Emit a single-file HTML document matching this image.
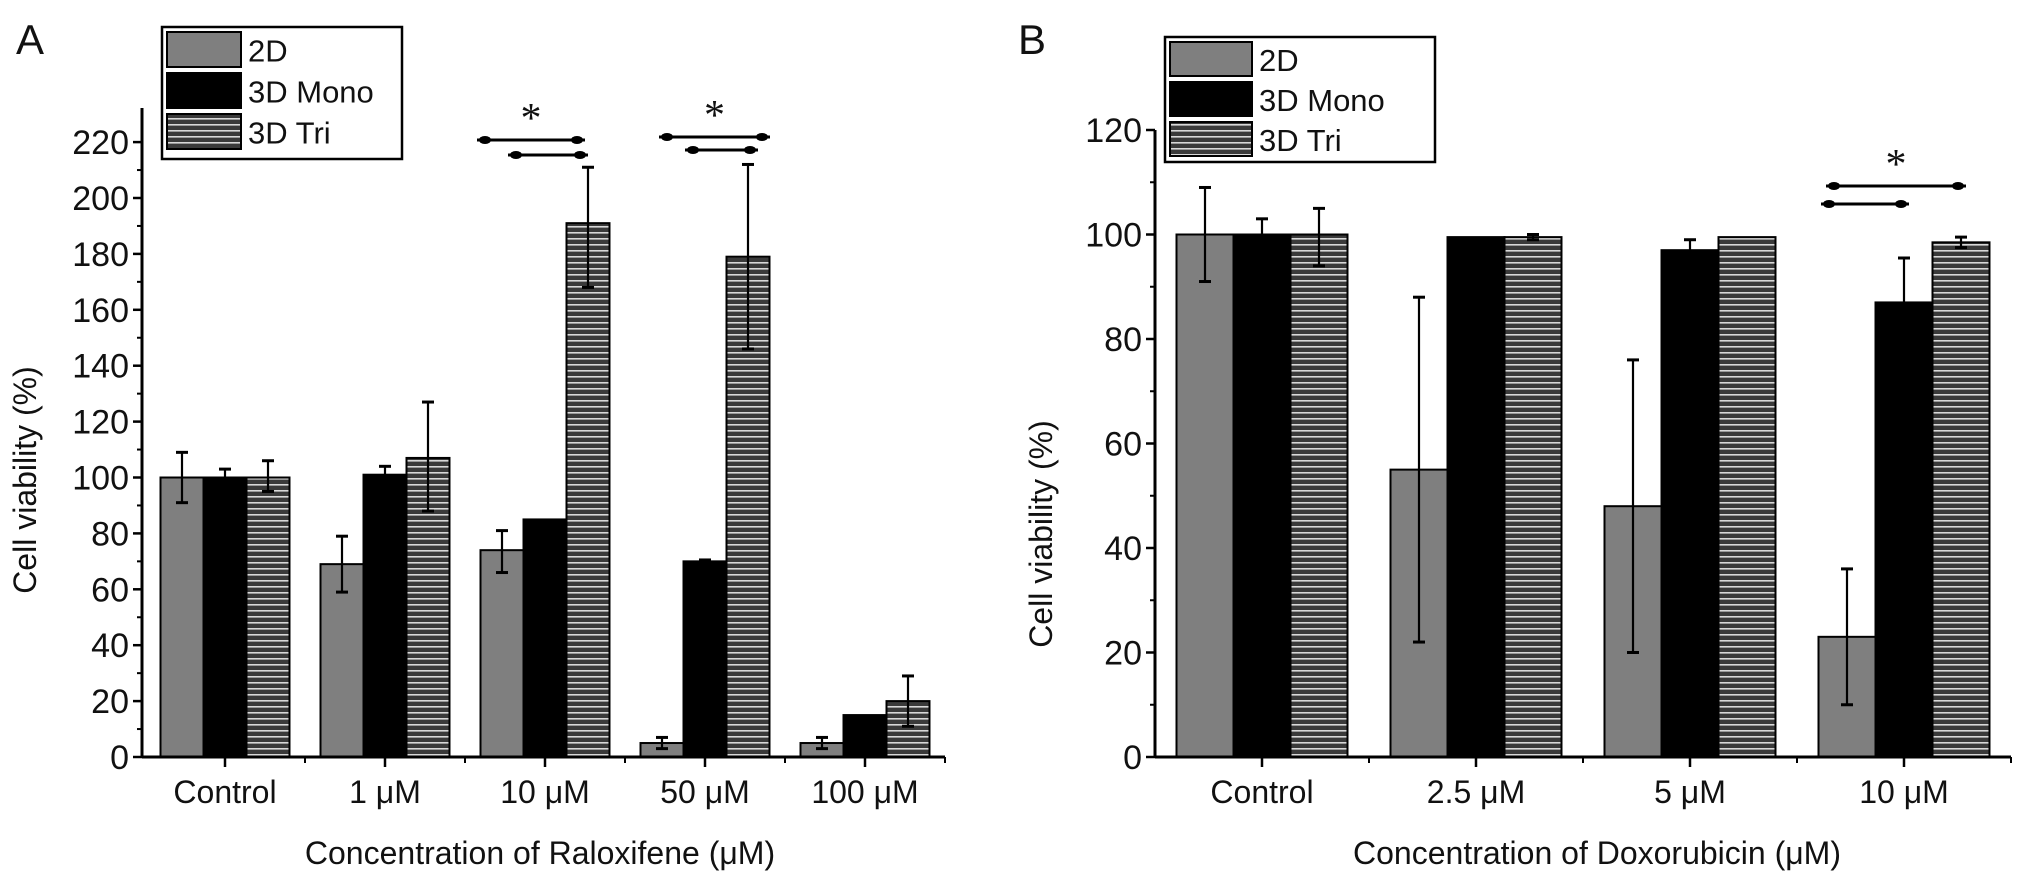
<!DOCTYPE html>
<html><head><meta charset="utf-8"><style>
html,body{margin:0;padding:0;background:#fff;}
svg{display:block;font-family:"Liberation Sans",Arial,sans-serif;}
</style></head><body>
<svg id="fig" width="2032" height="884" viewBox="0 0 2032 884" xmlns="http://www.w3.org/2000/svg">
<defs>
<pattern id="stripe" width="8" height="6" patternUnits="userSpaceOnUse">
<rect width="8" height="6" fill="#3a3a3a"/><rect y="4" width="8" height="1.6" fill="#d8d8d8"/>
</pattern>
</defs>
<g id="panelA"></g>
<g id="panelB"></g>
</svg>
<script>
// Panel A data
const catsA = ["Control","1 \u03BCM","10 \u03BCM","50 \u03BCM","100 \u03BCM"];
const a2D = [100,69,74,5,5];
const a2DHi = [109,79,81,7,7];
const a2DLo = [91,59,66,3,3];
const aMono = [100,101,85,70,15];
const aMonoHi = [103,104,85,70.5,15];
const aMonoLo = [97,98,85,69.5,15];
const aTri = [100,107,191,179,20];
const aTriHi = [106,127,211,212,29];
const aTriLo = [95,88,168,146,11];
const ticksA = [0,20,40,60,80,100,120,140,160,180,200,220];
// Panel B data
const catsB = ["Control","2.5 \u03BCM","5 \u03BCM","10 \u03BCM"];
const b2D = [100,55,48,23];
const b2DHi = [109,88,76,36];
const b2DLo = [91,22,20,10];
const bMono = [100,99.5,97,87];
const bMonoHi = [103,99.5,99,95.5];
const bMonoLo = [97,99.5,96,78];
const bTri = [100,99.5,99.5,98.5];
const bTriHi = [105,100,99.5,99.5];
const bTriLo = [94,99,99.5,97.5];
const ticksB = [0,20,40,60,80,100,120];

const NS="http://www.w3.org/2000/svg";
function mk(parent,tag,attrs,txt){const e=document.createElementNS(NS,tag);for(const k in attrs)e.setAttribute(k,attrs[k]);if(txt!==undefined)e.textContent=txt;parent.appendChild(e);return e;}

function panel(g,cfg){
  const y=v=>cfg.base-v*cfg.scale;
  const bandX=i=>cfg.x0+cfg.band*i;
  const fills=["#7f7f7f","#000","url(#stripe)"];
  const series=[[cfg.s2D,cfg.h2D,cfg.l2D],[cfg.sM,cfg.hM,cfg.lM],[cfg.sT,cfg.hT,cfg.lT]];
  const names=["2d","3d-mono","3d-tri"];
  const barC=(i,k)=>bandX(i)+cfg.band/2-1.5*cfg.bw+k*cfg.bw+cfg.bw/2;
  cfg.cats.forEach((c,i)=>{
    const cx=bandX(i)+cfg.band/2;
    const start=cx-1.5*cfg.bw;
    series.forEach((s,k)=>{
      const v=s[0][i];
      const r=mk(g,'rect',{x:start+k*cfg.bw,y:y(v),width:cfg.bw,height:y(0)-y(v),fill:fills[k],stroke:'#000','stroke-width':2});
      
      
    });
    series.forEach((s,k)=>{
      const hi=s[1][i],lo=s[2][i];
      if(hi-lo<0.8) return;
      const ex=start+k*cfg.bw+cfg.bw/2;
      const eg=mk(g,'g',{stroke:'#000','stroke-width':2.2});
      
      
      mk(eg,'line',{x1:ex,x2:ex,y1:y(hi),y2:y(lo)});
      mk(eg,'line',{x1:ex-6,x2:ex+6,y1:y(hi),y2:y(hi),'stroke-width':3});
      mk(eg,'line',{x1:ex-6,x2:ex+6,y1:y(lo),y2:y(lo),'stroke-width':3});
    });
    const t=mk(g,'text',{x:cx,y:cfg.base+46,'font-size':32,'text-anchor':'middle',fill:'#111'},c);
    
    
    mk(g,'line',{x1:cx,x2:cx,y1:cfg.base,y2:cfg.base+10,stroke:'#000','stroke-width':2.5});
    mk(g,'line',{x1:bandX(i+1),x2:bandX(i+1),y1:cfg.base,y2:cfg.base+6,stroke:'#000','stroke-width':2});
  });
  const xa=mk(g,'line',{x1:cfg.ax,x2:bandX(cfg.cats.length),y1:cfg.base,y2:cfg.base,stroke:'#000','stroke-width':3});
  
  
  const ya=mk(g,'line',{x1:cfg.ax,x2:cfg.ax,y1:cfg.base,y2:cfg.top,stroke:'#000','stroke-width':3});
  
  
  cfg.ticks.forEach((tv,j)=>{
    mk(g,'line',{x1:cfg.ax-9,x2:cfg.ax,y1:y(tv),y2:y(tv),stroke:'#000','stroke-width':2.5});
    if(j<cfg.ticks.length-1){const m=(tv+cfg.ticks[j+1])/2;mk(g,'line',{x1:cfg.ax-5,x2:cfg.ax,y1:y(m),y2:y(m),stroke:'#000','stroke-width':2});}
    const t=mk(g,'text',{x:cfg.ax-13,y:y(tv)+12,'font-size':34,'text-anchor':'end',fill:'#111'},String(tv));
    
    
  });
  const yt=mk(g,'text',{x:cfg.ytx,y:cfg.yty,'font-size':32,'text-anchor':'middle',fill:'#111',transform:'rotate(-90 '+cfg.ytx+' '+cfg.yty+')'},'Cell viability (%)');
  
  
  const xt=mk(g,'text',{x:cfg.xtx,y:864,'font-size':32,'text-anchor':'middle',fill:'#111'},cfg.xtitle);
  
  
  const pl=mk(g,'text',{x:cfg.plx,y:54,'font-size':42,fill:'#111'},cfg.plabel);
  
  
  const L=cfg.leg;
  const lg=mk(g,'g',{});
  
  
  mk(lg,'rect',{x:L.x,y:L.y,width:L.w,height:L.h,fill:'#fff',stroke:'#000','stroke-width':2.5});
  ["2D","3D Mono","3D Tri"].forEach((n,k)=>{
    const ry=L.y+5+k*L.rh;
    const sw=mk(lg,'rect',{x:L.x+5,y:ry,width:L.sw,height:L.rh-6,fill:fills[k],stroke:'#000','stroke-width':2});
    
    
    const lt=mk(lg,'text',{x:L.x+L.sw+12,y:ry+L.rh/2+9,'font-size':31,fill:'#111'},n);
    
    
  });
  cfg.sig.forEach((s,n)=>{
    const sg=mk(g,'g',{stroke:'#000','stroke-width':3,fill:'#000'});
    
    
    const x1=barC(s.cat,s.from)+s.d1, x2=barC(s.cat,s.to)+s.d2;
    mk(sg,'line',{x1:x1,x2:x2,y1:s.y,y2:s.y});
    mk(sg,'ellipse',{cx:x1+8,cy:s.y,rx:6,ry:4,stroke:'none'});
    mk(sg,'ellipse',{cx:x2-8,cy:s.y,rx:6,ry:4,stroke:'none'});
    if(s.star){
      const st=mk(g,'text',{x:(x1+x2)/2,y:s.y-8,'font-size':42,'text-anchor':'middle',fill:'#111','font-family':'Liberation Serif, serif'},'*');
      
      
    }
  });
}

panel(document.getElementById('panelA'),{
  cats:catsA,s2D:a2D,h2D:a2DHi,l2D:a2DLo,sM:aMono,hM:aMonoHi,lM:aMonoLo,sT:aTri,hT:aTriHi,lT:aTriLo,
  ticks:ticksA,base:757,scale:2.795,top:108,ax:142,x0:145,band:160,bw:43,
  ytx:36,yty:480,xtx:540,xtitle:"Concentration of Raloxifene (\u03BCM)",plx:16,plabel:"A",
  leg:{x:162,y:27,w:240,h:132,sw:74,rh:41},
  sig:[{cat:2,from:0,to:2,d1:-25,d2:-3,y:140,star:true},{cat:2,from:1,to:2,d1:-37,d2:0,y:155},
       {cat:3,from:0,to:2,d1:-3,d2:22,y:137,star:true},{cat:3,from:1,to:2,d1:-20,d2:10,y:150}]
});
panel(document.getElementById('panelB'),{
  cats:catsB,s2D:b2D,h2D:b2DHi,l2D:b2DLo,sM:bMono,hM:bMonoHi,lM:bMonoLo,sT:bTri,hT:bTriHi,lT:bTriLo,
  ticks:ticksB,base:757,scale:5.225,top:130,ax:1155,x0:1155,band:214,bw:57,
  ytx:1052,yty:534,xtx:1597,xtitle:"Concentration of Doxorubicin (\u03BCM)",plx:1018,plabel:"B",
  leg:{x:1165,y:37,w:270,h:125,sw:82,rh:40},
  sig:[{cat:3,from:0,to:2,d1:-21,d2:5,y:186,star:true},{cat:3,from:0,to:1,d1:-26,d2:5,y:204}]
});
</script>
</body></html>
